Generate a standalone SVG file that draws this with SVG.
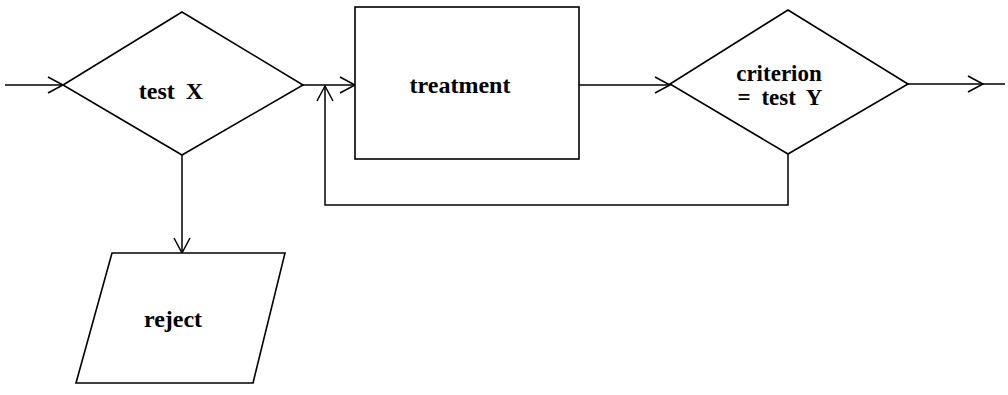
<svg xmlns="http://www.w3.org/2000/svg" width="1008" height="395" viewBox="0 0 1008 395">
<defs>
<style>
.s{fill:#fff;stroke:#000;stroke-width:1.6}
.c{fill:none;stroke:#000;stroke-width:1.5}
text{font-family:"Liberation Serif","Times New Roman",serif;font-size:24px;font-weight:bold;fill:#000;text-anchor:middle}
.w{word-spacing:5px}
.k{font-size:23px}
</style>
<marker id="a" markerWidth="20" markerHeight="20" refX="16" refY="9" orient="auto" markerUnits="userSpaceOnUse">
<path d="M1,1 L16,9 L1,17" fill="none" stroke="#000" stroke-width="1.5"/>
</marker>
</defs>
<rect width="1008" height="395" fill="#fff"/>
<g id="connectors">
<path class="c" d="M5,85 H63" marker-end="url(#a)"/>
<path class="c" d="M303,85 H355" marker-end="url(#a)"/>
<path class="c" d="M579,85 H670" marker-end="url(#a)"/>
<path class="c" d="M908,84 H983" marker-end="url(#a)"/>
<path class="c" d="M983,84 H1005"/>
<path class="c" d="M182,155 V253" marker-end="url(#a)"/>
<path class="c" d="M788,154 V205 H325 V86" marker-end="url(#a)"/>
</g>
<g id="testX">
<polygon class="s" points="182,12 303,85 182,155 63,85"/>
<text class="w" x="171" y="99">test X</text>
</g>
<g id="treatment">
<rect class="s" x="355" y="7" width="224" height="152"/>
<text x="460" y="93">treatment</text>
</g>
<g id="criterion">
<polygon class="s" points="788,10 908,84 788,154 670,84"/>
<text class="k" x="779" y="81">criterion</text>
<text class="k w" x="780" y="105">= test Y</text>
</g>
<g id="reject">
<polygon class="s" points="112,253 285,253 253,383 76,383"/>
<text x="173" y="327">reject</text>
</g>
</svg>
